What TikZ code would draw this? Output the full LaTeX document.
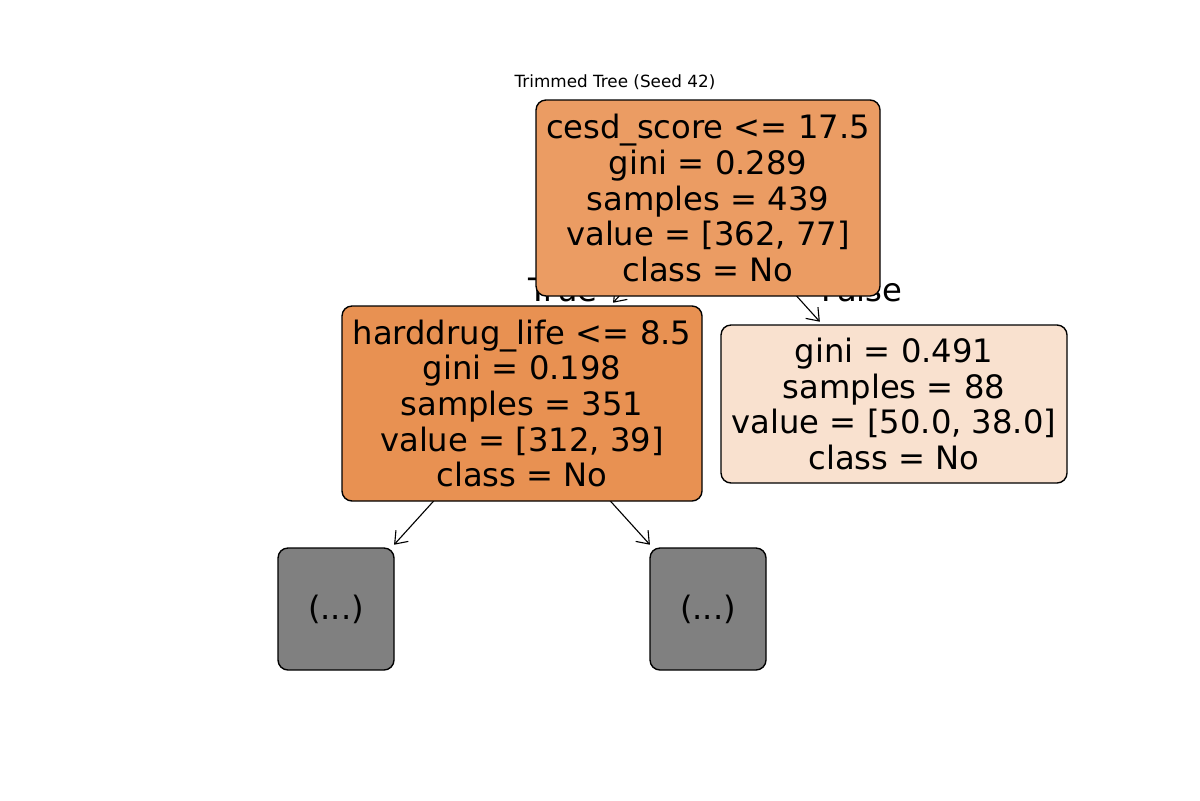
\documentclass[tikz,border=0pt]{standalone}
\usepackage{fontspec}
\setmainfont{DejaVu Sans}
\usetikzlibrary{arrows.meta}
\pgfdeclarelayer{background}
\pgfsetlayers{background,main}
\definecolor{rootc}{RGB}{235,156,99}
\definecolor{leftc}{RGB}{232,145,82}
\definecolor{rightc}{RGB}{249,225,207}
\definecolor{grayc}{RGB}{128,128,128}
\tikzset{
  treebox/.style={draw=black, line width=1pt, rounded corners=7.2pt, inner sep=0pt, align=center,
    font=\fontsize{23.2pt}{25.7pt}\selectfont},
  edge/.style={line width=0.8pt, -{Straight Barb[length=8pt,width=12pt,line width=0.8pt]}, shorten >=2.5pt},
  lbl/.style={inner sep=0pt, anchor=base, font=\fontsize{23.2pt}{25.7pt}\selectfont},
}
\begin{document}
\begin{tikzpicture}[x=0.72pt,y=-0.72pt]
\useasboundingbox (0,0) rectangle (1200,800);
\node[inner sep=0pt, font=\fontsize{12.1pt}{15pt}\selectfont] (title) at (615,82.5) {Trimmed Tree (Seed 42)};
\node[treebox, fill=rootc, minimum width=344*0.72pt, minimum height=196*0.72pt] (root) at (708,198)
  {cesd\_score <= 17.5\\gini = 0.289\\samples = 439\\value = [362, 77]\\class = No};
\node[treebox, fill=leftc, minimum width=360*0.72pt, minimum height=195*0.72pt] (left) at (522,403.5)
  {harddrug\_life <= 8.5\\gini = 0.198\\samples = 351\\value = [312, 39]\\class = No};
\node[treebox, fill=rightc, minimum width=346*0.72pt, minimum height=158*0.72pt] (right) at (894,404)
  {gini = 0.491\\samples = 88\\value = [50.0, 38.0]\\class = No};
\node[treebox, fill=grayc, minimum width=116*0.72pt, minimum height=122*0.72pt] (ll) at (336,609) {(...)};
\node[treebox, fill=grayc, minimum width=116*0.72pt, minimum height=122*0.72pt] (lr) at (708,609) {(...)};
\begin{pgfonlayer}{background}
\node[lbl] (true) at (563,301) {True};
\node[lbl] (false) at (862,301) {False};
\draw[edge] (root.center) -- (left);
\draw[edge] (root.center) -- (right);
\draw[edge] (left.center) -- (ll);
\draw[edge] (left.center) -- (lr);
\end{pgfonlayer}
\end{tikzpicture}
\end{document}
